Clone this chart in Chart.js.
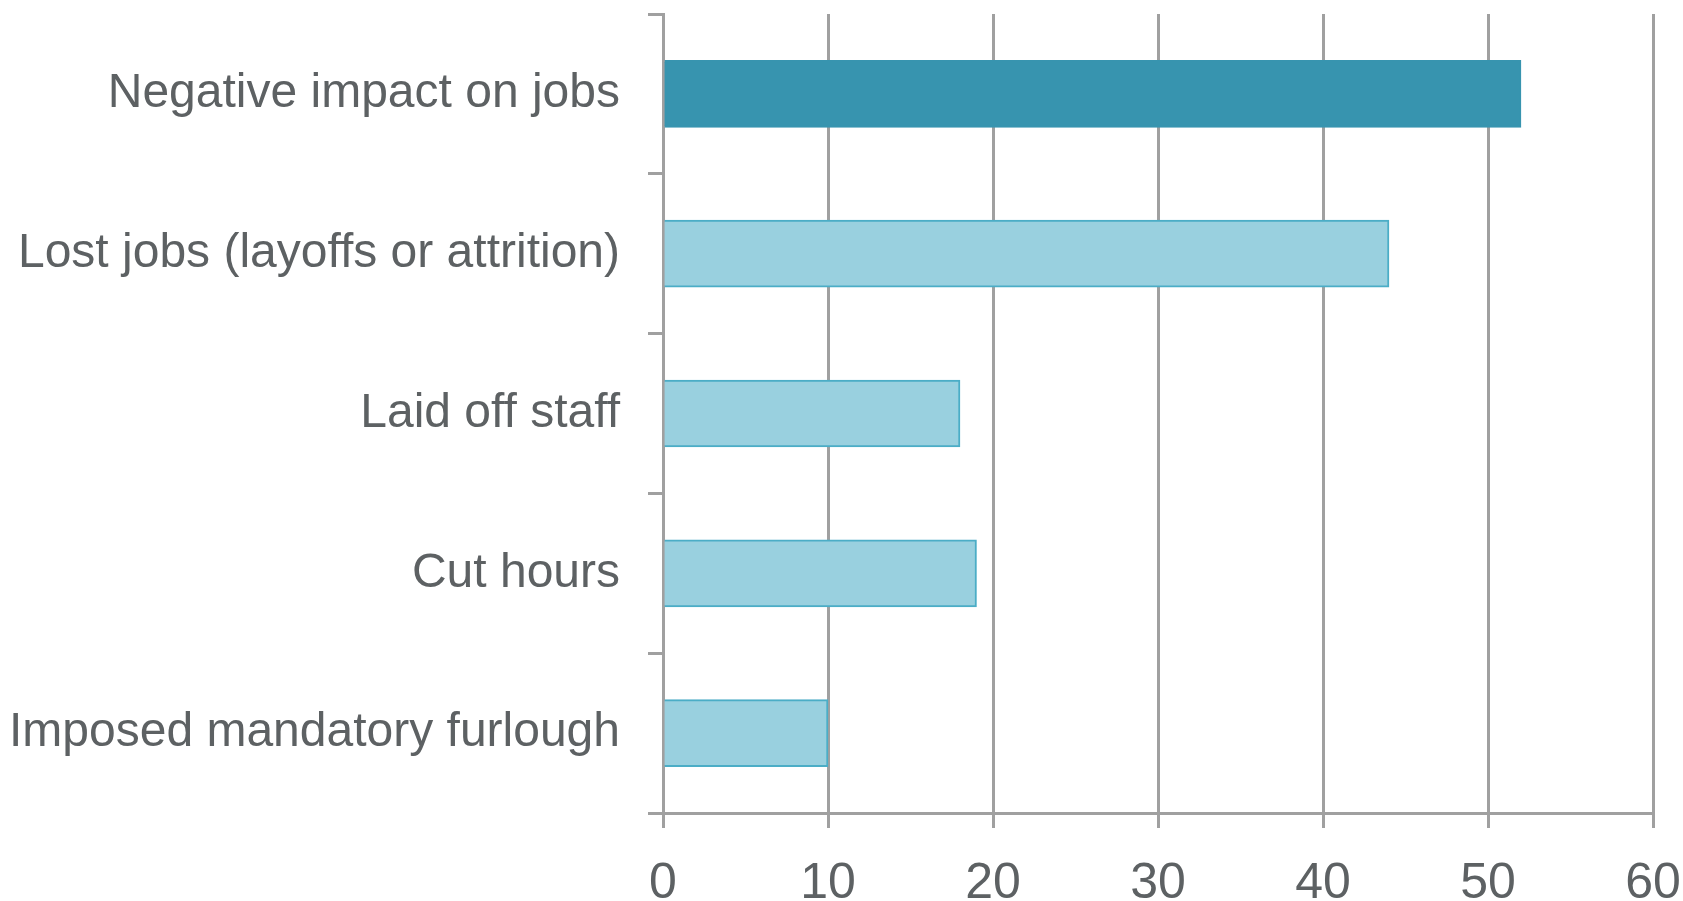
<!DOCTYPE html>
<html>
<head>
<meta charset="utf-8">
<script src="https://cdn.jsdelivr.net/npm/chart.js@4"></script>
<style>
html,body{margin:0;padding:0;background:#fff;}
#wrap{width:1683px;height:901px;position:relative;}
</style>
</head>
<body>
<div id="wrap"><canvas id="c"></canvas></div>
<script>
const categories = ["Negative impact on jobs", "Lost jobs (layoffs or attrition)", "Laid off staff", "Cut hours", "Imposed mandatory furlough"];
const values = [52, 44, 18, 19, 10];
const xTicks = [0, 10, 20, 30, 40, 50, 60];

const GRID = '#a0a0a0';
const TEXT = '#5d6163';
const FONT = 'Liberation Sans, Arial, sans-serif';

new Chart(document.getElementById('c'), {
  type: 'bar',
  data: {
    labels: categories,
    datasets: [{
      data: values,
      backgroundColor: ['#3794af', '#99d0df', '#99d0df', '#99d0df', '#99d0df'],
      borderColor: ['#3794af', '#4badc6', '#4badc6', '#4badc6', '#4badc6'],
      borderWidth: 2,
      barThickness: 67
    }]
  },
  options: {
    indexAxis: 'y',
    responsive: true,
    maintainAspectRatio: false,
    animation: false,
    devicePixelRatio: 1,
    layout: { padding: { top: 14, right: 30, left: 0, bottom: 0 } },
    plugins: { legend: { display: false }, tooltip: { enabled: false } },
    scales: {
      x: {
        min: 0, max: 60,
        afterBuildTicks: (s) => { s.ticks = xTicks.map(v => ({ value: v })); },
        afterFit: (s) => { s.height = 88; s.paddingRight = 0; s.paddingLeft = 0; },
        grid: { color: GRID, lineWidth: 3, tickLength: 15, drawOnChartArea: true },
        border: { color: GRID, width: 3 },
        ticks: { color: TEXT, font: { family: FONT, size: 50 }, padding: 26, maxRotation: 0 }
      },
      y: {
        afterFit: (s) => { s.width = 663; s.paddingTop = 0; s.paddingBottom = 0; },
        grid: { color: GRID, lineWidth: 3, tickLength: 15, drawOnChartArea: false, offset: true },
        border: { color: GRID, width: 3 },
        ticks: { color: TEXT, font: { family: FONT, size: 48 }, padding: 28 }
      }
    }
  }
});
</script>
</body>
</html>
